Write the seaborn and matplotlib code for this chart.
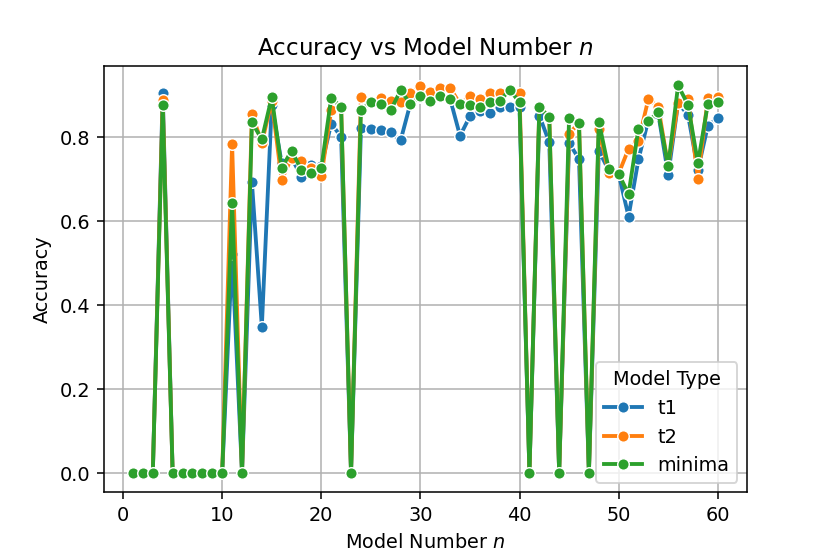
import numpy as np
import pandas as pd
import seaborn as sns
import matplotlib
matplotlib.use("Agg")
import matplotlib.pyplot as plt

# model numbers 1..60
model_n = list(range(1, 61))

# accuracies
t1 = [0, 0, 0, 0.904, 0, 0, 0, 0, 0, 0,
      0.52, 0, 0.691, 0.348, 0.876, 0.737, 0.75, 0.704, 0.733, 0.73,
      0.831, 0.80, 0, 0.82, 0.818, 0.817, 0.81, 0.791, 0.88, 0.895,
      0.886, 0.896, 0.89, 0.802, 0.849, 0.86, 0.857, 0.87, 0.87, 0.87,
      0, 0.85, 0.787, 0, 0.785, 0.747, 0, 0.767, 0.72, 0.712,
      0.61, 0.746, 0.84, 0.855, 0.709, 0.88, 0.852, 0.721, 0.826, 0.844]

t2 = [0, 0, 0, 0.888, 0, 0, 0, 0, 0, 0,
      0.783, 0, 0.855, 0.785, 0.885, 0.697, 0.75, 0.741, 0.726, 0.706,
      0.863, 0.87, 0, 0.894, 0.882, 0.892, 0.884, 0.882, 0.904, 0.921,
      0.906, 0.916, 0.916, 0.878, 0.896, 0.89, 0.904, 0.904, 0.91, 0.904,
      0, 0.87, 0.847, 0, 0.807, 0.833, 0, 0.819, 0.713, 0.712,
      0.771, 0.789, 0.89, 0.871, 0.73, 0.88, 0.89, 0.70, 0.892, 0.894]

minima = [0, 0, 0, 0.875, 0, 0, 0, 0, 0, 0,
          0.642, 0, 0.834, 0.794, 0.894, 0.725, 0.767, 0.72, 0.714, 0.725,
          0.892, 0.871, 0, 0.864, 0.882, 0.879, 0.863, 0.91, 0.878, 0.896,
          0.886, 0.896, 0.89, 0.878, 0.876, 0.87, 0.882, 0.884, 0.912, 0.882,
          0, 0.87, 0.847, 0, 0.844, 0.833, 0, 0.836, 0.723, 0.712,
          0.663, 0.819, 0.837, 0.858, 0.73, 0.922, 0.876, 0.737, 0.878, 0.882]

df = pd.DataFrame({"n": model_n, "t1": t1, "t2": t2, "minima": minima})
df_long = df.melt(id_vars="n", var_name="Model Type", value_name="Accuracy")

fig, ax = plt.subplots(figsize=(6, 4), dpi=138.33)
sns.lineplot(data=df_long, x="n", y="Accuracy", hue="Model Type",
             hue_order=["t1", "t2", "minima"], marker="o", linewidth=2, ax=ax)
ax.grid(True)
ax.set_title("Accuracy vs Model Number $n$")
ax.set_xlabel("Model Number $n$")
ax.set_ylabel("Accuracy")
ax.legend(title="Model Type", loc="lower right")

fig.savefig("out.png", dpi=138.33)
